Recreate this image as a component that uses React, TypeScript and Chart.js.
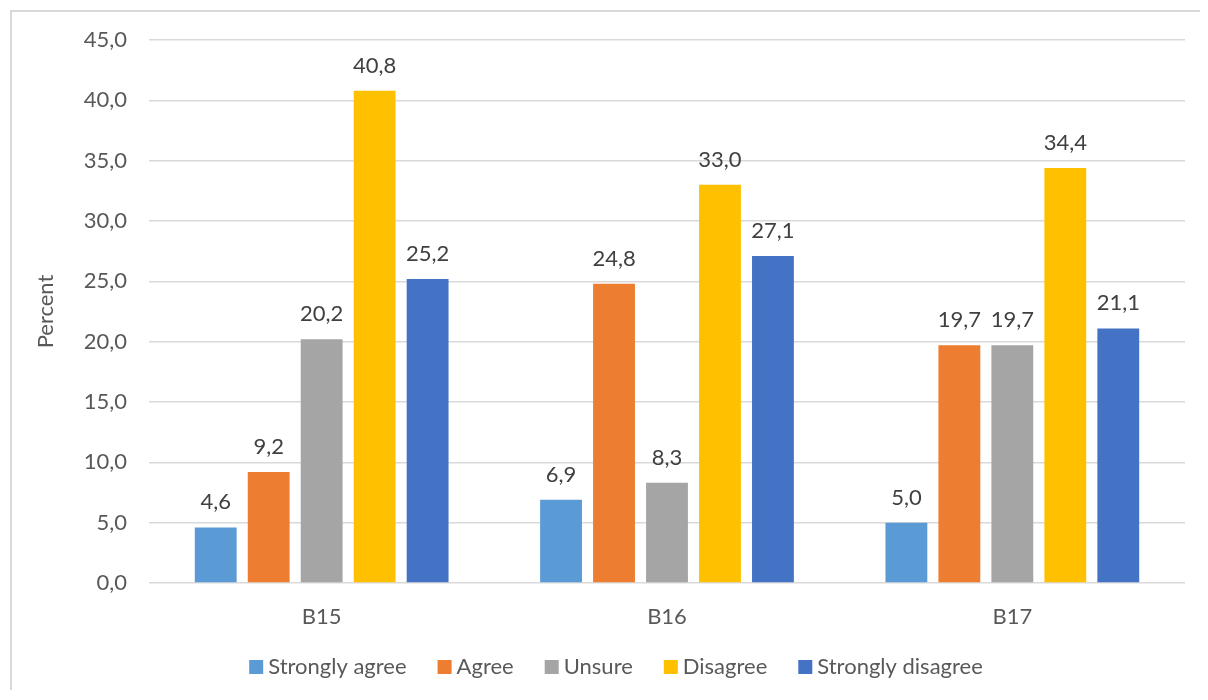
import React, { useEffect, useRef } from "react";
import { Chart, registerables } from "chart.js";

Chart.register(...registerables);

const categories = ["B15", "B16", "B17"];
const seriesNames = ["Strongly agree", "Agree", "Unsure", "Disagree", "Strongly disagree"];
const stronglyAgree = [4.6, 6.9, 5.0];
const agree = [9.2, 24.8, 19.7];
const unsure = [20.2, 8.3, 19.7];
const disagree = [40.8, 33.0, 34.4];
const stronglyDisagree = [25.2, 27.1, 21.1];
const seriesColors = ["#5B9BD5", "#ED7D31", "#A5A5A5", "#FFC000", "#4472C4"];
const yTicks = [0, 5, 10, 15, 20, 25, 30, 35, 40, 45];

const FONT = "Lato, 'Open Sans', sans-serif";
const FONT_SIZE = 22;
const TEXT_COLOR = "#595959";

const fmt = (v: number) => v.toFixed(1).replace(".", ",");

// Value labels above every bar
const valueLabels = {
  id: "valueLabels",
  afterDatasetsDraw(chart: any) {
    const ctx = chart.ctx;
    ctx.save();
    ctx.font = `${FONT_SIZE}px ${FONT}`;
    ctx.fillStyle = "#404040";
    ctx.textAlign = "center";
    ctx.textBaseline = "alphabetic";
    chart.data.datasets.forEach((ds: any, i: number) => {
      const meta = chart.getDatasetMeta(i);
      meta.data.forEach((bar: any, j: number) => {
        ctx.fillText(fmt(ds.data[j]), bar.x, bar.y - 18);
      });
    });
    ctx.restore();
  },
};

// Compact bottom legend: small square swatch, tight text gap, wide item gap
const bottomLegend = {
  id: "bottomLegend",
  afterDraw(chart: any) {
    const ctx = chart.ctx;
    const box = 14;
    const textGap = 5;
    const itemGap = 31;
    const centerX = 604;
    const centerY = 655;
    ctx.save();
    ctx.font = `${FONT_SIZE}px ${FONT}`;
    ctx.textBaseline = "middle";
    ctx.textAlign = "left";
    const items = chart.data.datasets.map((ds: any) => ({
      label: ds.label,
      color: ds.backgroundColor,
      w: ctx.measureText(ds.label).width,
    }));
    const total =
      items.reduce((s: number, it: any) => s + box + textGap + it.w, 0) + itemGap * (items.length - 1);
    let x = centerX - total / 2;
    items.forEach((it: any) => {
      ctx.fillStyle = it.color;
      ctx.fillRect(x, centerY - box / 2, box, box);
      ctx.fillStyle = TEXT_COLOR;
      ctx.fillText(it.label, x + box + textGap, centerY);
      x += box + textGap + it.w + itemGap;
    });
    ctx.restore();
  },
};

export default function App() {
  const canvasRef = useRef<HTMLCanvasElement | null>(null);

  useEffect(() => {
    document.documentElement.style.overflow = "hidden";
    if (!canvasRef.current) return;
    const values = [stronglyAgree, agree, unsure, disagree, stronglyDisagree];
    const chart = new Chart(canvasRef.current, {
      type: "bar",
      data: {
        labels: categories,
        datasets: seriesNames.map((name, i) => ({
          label: name,
          data: values[i],
          backgroundColor: seriesColors[i],
          borderWidth: 0,
          barPercentage: 0.79,
          categoryPercentage: 0.767,
        })),
      },
      options: {
        animation: false,
        responsive: false,
        layout: { padding: { left: 0, right: 23, top: 28, bottom: 49 } },
        scales: {
          x: {
            grid: { display: false, drawTicks: false },
            border: { display: false },
            ticks: {
              color: TEXT_COLOR,
              font: { family: FONT, size: FONT_SIZE },
              padding: 21,
            },
            afterFit(scale: any) {
              scale.height = 60;
            },
          },
          y: {
            min: 0,
            max: 45,
            afterBuildTicks(scale: any) {
              scale.ticks = yTicks.map((v) => ({ value: v }));
            },
            grid: { color: "#D9D9D9", lineWidth: 1.5, drawTicks: false },
            border: { display: false },
            ticks: {
              color: TEXT_COLOR,
              font: { family: FONT, size: FONT_SIZE },
              padding: 22,
              callback: (v: any) => fmt(Number(v)),
            },
            title: {
              display: true,
              text: "Percent",
              color: TEXT_COLOR,
              font: { family: FONT, size: FONT_SIZE },
              padding: { top: 21, bottom: 0 },
            },
            afterFit(scale: any) {
              scale.width = 137;
              scale.paddingTop = 0;
              scale.paddingBottom = 0;
            },
          },
        },
        plugins: {
          legend: { display: false },
          tooltip: { enabled: false },
        },
      },
      plugins: [valueLabels, bottomLegend],
    });
    return () => chart.destroy();
  }, []);

  return (
    <div
      style={{
        position: "relative",
        left: 2,
        top: 2,
        width: 1196,
        height: 680,
        borderLeft: "2px solid #D9D9D9",
        borderTop: "2px solid #D9D9D9",
        background: "#ffffff",
      }}
    >
      <canvas ref={canvasRef} width={1196} height={680} style={{ display: "block" }} />
    </div>
  );
}
